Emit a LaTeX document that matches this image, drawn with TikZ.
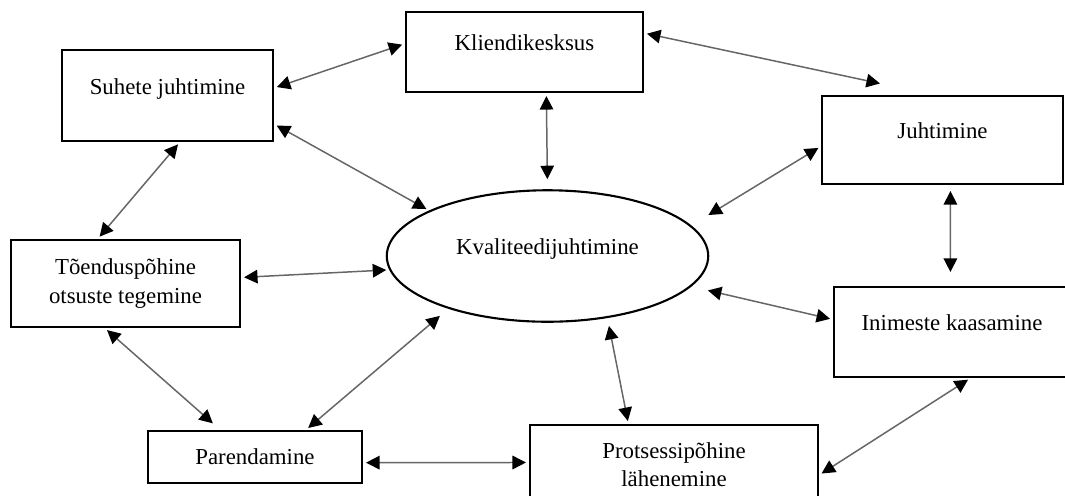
\documentclass[tikz,border=0pt]{standalone}
\usepackage{fontspec}
\setmainfont{Liberation Serif}
\usepackage{tikz}
\usetikzlibrary{shapes.geometric, arrows.meta}

\begin{document}
\begin{tikzpicture}[
  x=0.02cm, y=-0.02cm,
  box/.style={rectangle, draw=black, line width=1.2pt, align=center, font=\fontsize{13}{16}\selectfont},
  onerow/.style={text height=0.3cm, text depth=0.36cm},
  core/.style={ellipse, draw=black, line width=1.2pt, minimum width=6.43cm, minimum height=2.63cm, font=\fontsize{13}{16}\selectfont, text height=0.3cm, text depth=0.36cm},
  arrow/.style={{Triangle[length=0.27cm, width=0.27cm, color=black]}-{Triangle[length=0.27cm, width=0.27cm, color=black]}, draw=black!60, line width=0.85pt, shorten <=0.06cm, shorten >=0.06cm}
]
  \useasboundingbox (0,0) rectangle (1065,495);
  \clip (0,0) rectangle (1065,495);

  \node[core] (kval) at (547.5,256) {Kvaliteedijuhtimine};

  \node[box, onerow, minimum width=4.22cm, minimum height=1.82cm] (suhete) at (167.5,95.5) {Suhete juhtimine};
  \node[box, onerow, minimum width=4.74cm, minimum height=1.6cm] (klient) at (524.5,52) {Kliendikesksus};
  \node[box, onerow, minimum width=4.82cm, minimum height=1.76cm] (juht) at (942.5,140) {Juhtimine};
  \node[box, minimum width=4.58cm, minimum height=1.74cm] (toend) at (125.5,283.5) {Tõenduspõhine\\otsuste tegemine};
  \node[box, onerow, minimum width=4.72cm, minimum height=1.8cm] (inim) at (952,332) {Inimeste kaasamine};
  \node[box, minimum width=4.28cm, minimum height=1.04cm] (parend) at (255,457) {Parendamine};
  \node[box, minimum width=5.76cm, minimum height=1.6cm] (protsess) at (674,465) {Protsessipõhine\\lähenemine};

  \draw[arrow] (suhete.4) -- (klient.176);
  \draw[arrow] (suhete.-15) -- (kval.159);
  \draw[arrow] (suhete.-75) -- (toend.122);
  \draw[arrow, shorten >=0.2cm] (klient.-62) -- (kval.90);
  \draw[arrow, shorten >=1.1cm] (klient.9) -- (juht.101);
  \draw[arrow, shorten >=0.4cm] (juht.183) -- (kval.12);
  \draw[arrow, shorten <=0.12cm, shorten >=0.28cm] (juht.-80) -- (inim.92);
  \draw[arrow, shorten >=0.34cm] (inim.174) -- (kval.-12);
  \draw[arrow] (inim.-68) -- (protsess.-4);
  \draw[arrow, shorten <=0.16cm] (kval.-46) -- (protsess.138);
  \draw[arrow] (parend.-3) -- (protsess.179);
  \draw[arrow, shorten >=0.22cm] (parend.28) -- (kval.208);
  \draw[arrow] (toend.3) -- (kval.185);
  \draw[arrow, shorten >=0.2cm] (toend.-115) -- (parend.142);
\end{tikzpicture}
\end{document}
